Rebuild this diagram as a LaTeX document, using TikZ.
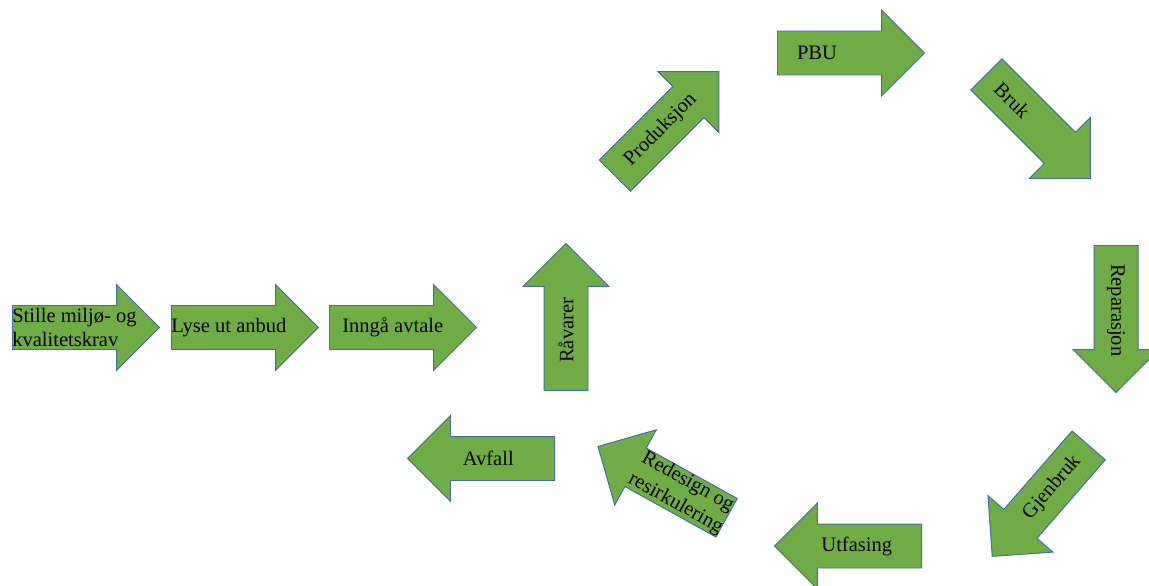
\documentclass[tikz,border=0pt]{standalone}
\usepackage{fontspec}
\setmainfont{Liberation Serif}
\usetikzlibrary{shapes.arrows,calc}
\definecolor{vert}{HTML}{70AD47}
\definecolor{bord}{HTML}{41719C}
\newcommand{\txtsize}{\fontsize{14.6}{17.5}\selectfont}
\tikzset{
  pil/.style={single arrow, draw=bord, line width=0.7pt, fill=vert, anchor=tail,
              minimum height=3.675cm, minimum width=2.125cm, inner xsep=0pt, inner ysep=0.5375cm,
              single arrow head extend=0.525cm, single arrow tip angle=90},
  tekst/.style={inner sep=0pt, align=center, font=\txtsize},
}
\begin{document}
\begin{tikzpicture}[x=0.025cm, y=-0.025cm]
  \useasboundingbox (0,0) rectangle (1149,585);
  \clip (0,0) rectangle (1149,585);
  % pilene
  \node[pil] (krav) at (12,327.5) {};
  \node[pil] (anbud) at (171,327.5) {};
  \node[pil] (avtale) at (329,327.5) {};
  \node[pil, rotate=90] (raa) at (566,391) {};
  \node[pil, rotate=45] (prod) at (614.5,176) {};
  \node[pil] (pbu) at (777,53) {};
  \node[pil, rotate=-45] (bruk) at (986,74) {};
  \node[pil, rotate=-90] (rep) at (1116,245) {};
  \node[pil, rotate=-131] (gjen) at (1089,445) {};
  \node[pil, rotate=180] (utfas) at (922,546) {};
  \node[pil, rotate=151] (redes) at (727,518) {};
  \node[pil, rotate=180] (avfall) at (555,458.5) {};
  % tekstene
  \node[tekst, align=left, anchor=west] (tkrav) at (krav.tail) {Stille miljø- og\\kvalitetskrav};
  \node[tekst, anchor=west] (tanbud) at (anbud.tail) {Lyse ut anbud};
  \node[tekst] (tavtale) at ($(avtale.tail)!0.43!(avtale.tip)$) {Inngå avtale};
  \node[tekst, rotate=90] (traa) at ($(raa.tail)!0.41!(raa.tip)$) {Råvarer};
  \node[tekst, rotate=45] (tprod) at ($(prod.tail)!0.44!(prod.tip)$) {Produksjon};
  \node[tekst] (tpbu) at ($(pbu.tail)!0.27!(pbu.tip)$) {PBU};
  \node[tekst, rotate=-45] (tbruk) at ($(bruk.tail)!0.25!(bruk.tip)$) {Bruk};
  \node[tekst, rotate=-90] (trep) at ($(rep.tail)!0.44!(rep.tip)$) {Reparasjon};
  \node[tekst, rotate=49] (tgjen) at ($(gjen.tail)!0.38!(gjen.tip)$) {Gjenbruk};
  \node[tekst] (tutfas) at ($(utfas.tail)!0.44!(utfas.tip)$) {Utfasing};
  \node[tekst, rotate=-29] (tredes) at ($(redes.tail)!0.35!(redes.tip)$) {Redesign og\\resirkulering};
  \node[tekst] (tavfall) at ($(avfall.tail)!0.45!(avfall.tip)$) {Avfall};
\end{tikzpicture}
\end{document}
